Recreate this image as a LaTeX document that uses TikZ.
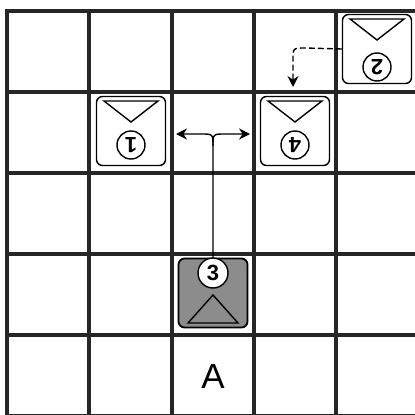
\documentclass[tikz,border=0pt]{standalone}
\usepackage{fontspec}
\setmainfont{Liberation Sans}
\usetikzlibrary{arrows.meta}
\tikzset{
	piece/.style={draw,line width=1.4,rounded corners=6,minimum width=69,minimum height=69,inner sep=0},
	disc/.style={draw,circle,line width=1.4,fill=white,minimum size=28,inner sep=0,font=\fontsize{22}{22}\selectfont\bfseries},
}
\begin{document}
\begin{tikzpicture}[x=1pt,y=-1pt]
	\useasboundingbox(0,0)rectangle(415,415);
	\fill[white](0,0)rectangle(415,415);
	% grid
	\draw[line width=4.5,color=black!85](7,11)--(7,416);
	\draw[line width=4.5,color=black!85](89,11)--(89,416);
	\draw[line width=4.5,color=black!85](172,11)--(172,416);
	\draw[line width=4.5,color=black!85](254,11)--(254,416);
	\draw[line width=4.5,color=black!85](336,11)--(336,416);
	\draw[line width=4.5,color=black!85](418,11)--(418,416);
	\draw[line width=4.5,color=black!85](5,11)--(420,11);
	\draw[line width=4.5,color=black!85](5,92)--(420,92);
	\draw[line width=4.5,color=black!85](5,173)--(420,173);
	\draw[line width=4.5,color=black!85](5,254)--(420,254);
	\draw[line width=4.5,color=black!85](5,335)--(420,335);
	\draw[line width=4.5,color=black!85](5,416)--(420,416);
	% pieces
	\node[piece](p1)at(131,131){};
	\node[piece](p4)at(295,131){};
	\node[piece](p2)at(377,49){};
	\node[piece,fill=black!45,line width=1.8](p3)at(213,293){};
	\draw[line width=1.4](104,101)--(158,101)--(131,122)--cycle;
	\draw[line width=1.4](268,101)--(322,101)--(295,122)--cycle;
	\draw[line width=1.4](350,19)--(404,19)--(377,40)--cycle;
	\draw[line width=1.4](188,323)--(238,323)--(213,295)--cycle;
	\node[disc,rotate=180](d1)at(131,145){1};
	\node[disc,rotate=180](d4)at(295,145){4};
	\node[disc,rotate=180](d2)at(377,67){2};
	\node[disc,minimum size=30](d3)at(213,273){3};
	% moves
	\draw[line width=1.4,-{Stealth[length=11,width=11]}](p3.north)--(213,146)..controls(213,134)..(201,134)--(176,134);
	\draw[line width=1.4,-{Stealth[length=11,width=11]}](213,146)..controls(213,134)..(225,134)--(250,134);
	\draw[line width=1.4,dash pattern=on 6 off 3,-{Stealth[length=11,width=11]}](p2.west)--(305,48)..controls(293,48)..(293,60)--(293,87);
	\node[font=\fontsize{35}{35}\selectfont](a)at(213,376){A};
\end{tikzpicture}
\end{document}
